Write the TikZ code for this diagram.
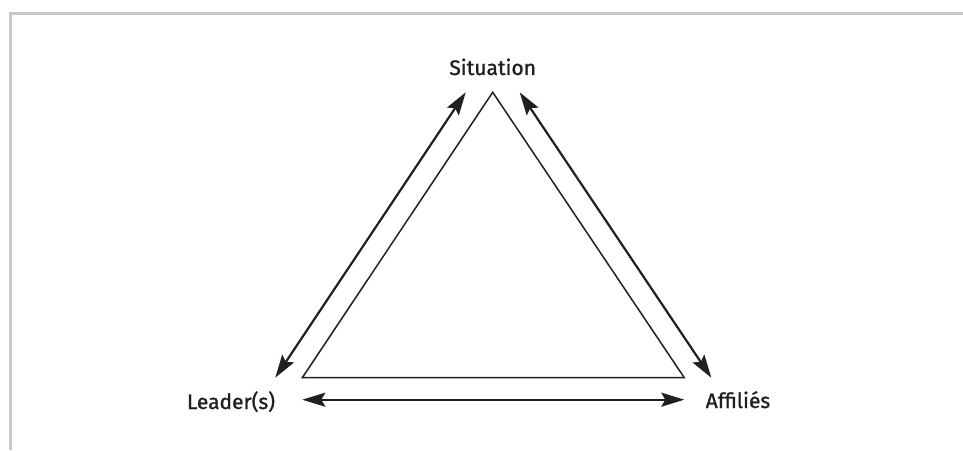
\documentclass[tikz,border=0pt]{standalone}
\usepackage{fontspec}
\setmainfont{Fira Sans}
\newfontfamily\tagfont{Fira Sans}[FakeBold=1.2]
\usetikzlibrary{arrows.meta, calc}
\definecolor{inkblack}{RGB}{35,31,32}
\definecolor{framegray}{RGB}{198,200,202}

\begin{document}
\begin{tikzpicture}[x=1pt,y=1pt,
  side/.style={inkblack,line width=1.5pt},
  link/.style={inkblack,line width=2.2pt,
    {Stealth[length=23pt,width=14pt,inset=4pt]}-{Stealth[length=23pt,width=14pt,inset=4pt]}},
  tag/.style={inkblack,font=\tagfont\fontsize{21}{25}\selectfont,anchor=base,inner sep=0pt}]
  \useasboundingbox (0,0) rectangle (963,450);
  % frame
  \draw[framegray,line width=3pt](10.5,0)--(10.5,436.5)--(963,436.5);
  % triangle
  \coordinate (S) at (492.7,357.7);
  \coordinate (L) at (302.3,72.3);
  \coordinate (A) at (684.3,72.3);
  \draw[side](S)--(L)--(A)--cycle;
  % labels
  \node[tag] (sit) at (492.7,375){Situation};
  \node[tag] (lead) at (231,41){Leader(s)};
  \node[tag] (aff) at (738,42){Affiliés};
  % arrow ends
  \coordinate (SL) at ($(S)+(-27,0)$);
  \coordinate (LS) at ($(L)+(-27,0)$);
  \coordinate (SA) at ($(S)+(27,0)$);
  \coordinate (AS) at ($(A)+(27,0)$);
  \coordinate (LA) at ($(L)+(0,-22)$);
  \coordinate (AL) at ($(A)+(0,-22)$);
  \draw[link](LS)--(SL);
  \draw[link](SA)--(AS);
  \draw[link](LA)--(AL);
\end{tikzpicture}
\end{document}
